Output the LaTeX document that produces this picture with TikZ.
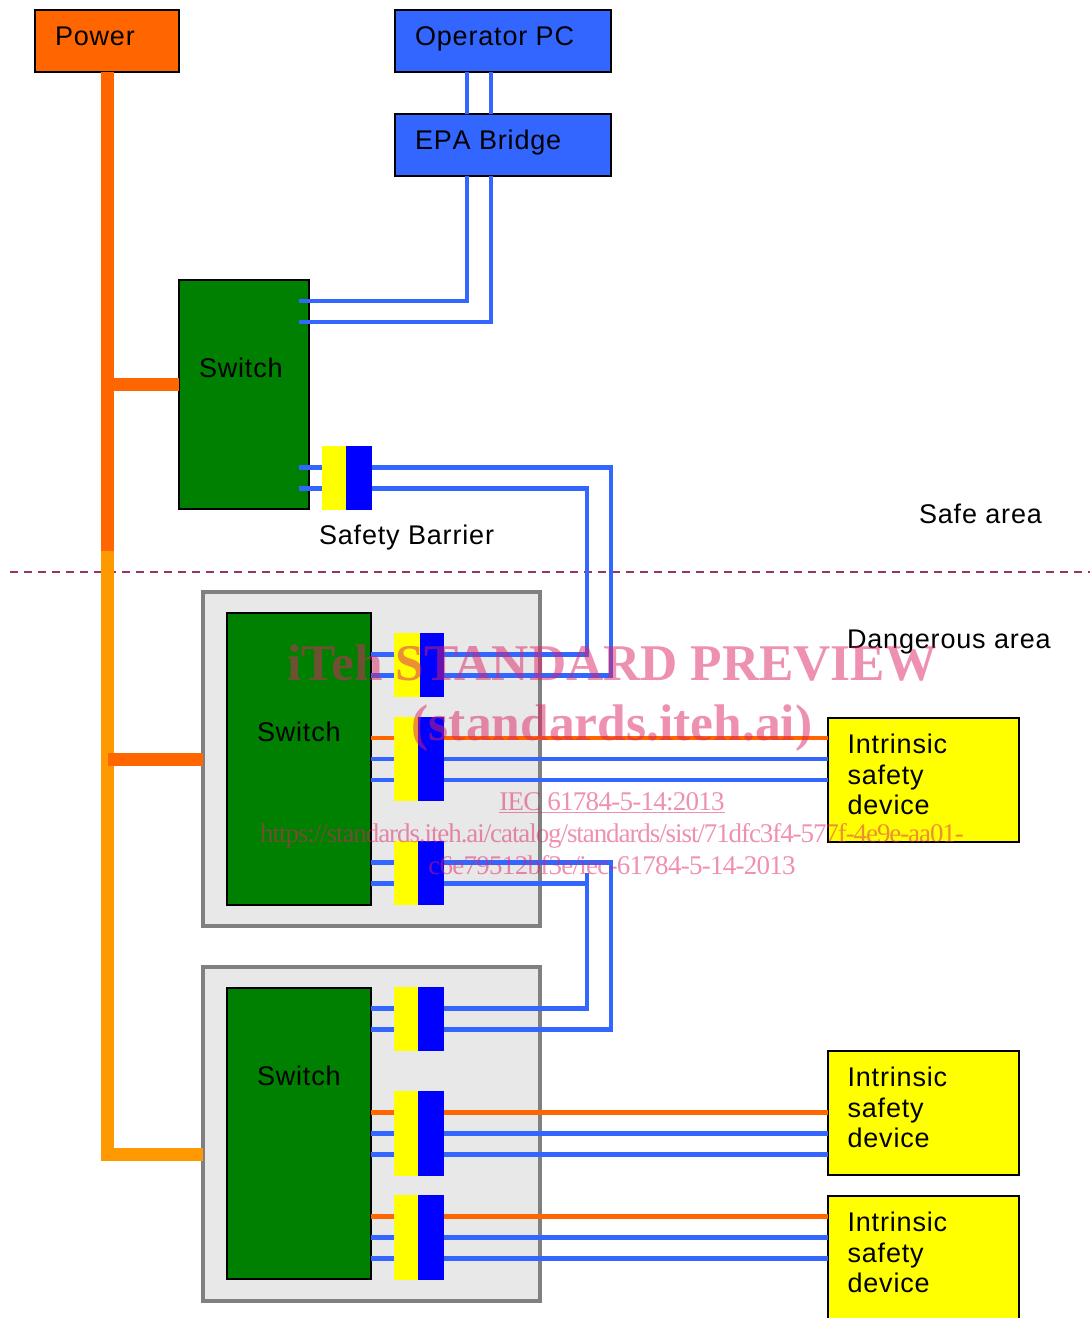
\documentclass[tikz,border=0pt]{standalone}
\usepackage{fontspec}
\setmainfont[LetterSpace=3.1,Kerning=Off]{Liberation Sans}
\newfontfamily\markfont{Liberation Serif}
\newfontfamily\markfontb[LetterSpace=-4]{Liberation Serif}
\newfontfamily\markfontc[LetterSpace=-2.7]{Liberation Serif}
\usepackage{xcolor}
\usetikzlibrary{positioning,calc}
\definecolor{pcblue}{RGB}{51,102,255}
\definecolor{powred}{RGB}{255,102,0}
\definecolor{powamb}{RGB}{255,153,0}
\definecolor{swgreen}{RGB}{0,128,0}
\definecolor{zoneline}{RGB}{153,51,102}
\definecolor{panelgray}{RGB}{232,232,232}
\definecolor{panelline}{RGB}{128,128,128}
\definecolor{markpink}{RGB}{221,34,102}
\definecolor{baryellow}{RGB}{255,255,0}
\definecolor{barblue}{RGB}{0,0,255}
\tikzset{
  box/.style    = {draw=black, line width=2pt, anchor=north west, inner sep=0pt, outer sep=0pt},
  panel/.style  = {draw=panelline, line width=4pt, fill=panelgray, anchor=north west, inner sep=0pt, outer sep=0pt, minimum width=336.5pt, minimum height=333.5pt},
  ybar/.style   = {fill=baryellow, anchor=north west, inner sep=0pt, outer sep=0pt},
  bbar/.style   = {fill=barblue, inner sep=0pt, outer sep=0pt},
  lbl/.style    = {inner sep=0pt, outer sep=0pt, anchor=base west, font=\fontsize{27}{30.5}\selectfont},
  wire/.style   = {line width=4.5pt, draw=pcblue},
  pwire/.style  = {line width=4.5pt, draw=powred},
  bus/.style    = {line width=13pt, draw=powred},
  busb/.style   = {line width=13pt, draw=powamb},
  wmark/.style  = {text=markpink, text opacity=0.5, inner sep=0pt, anchor=base},
}
\begin{document}
\begin{tikzpicture}[x=1pt,y=-1pt]
  \useasboundingbox (0,0) rectangle (1090,1318);
  % safe side
  \node[box, fill=powred, minimum width=144pt, minimum height=62pt] (power) at (35,10) {};
  \node[box, fill=pcblue, minimum width=216pt, minimum height=62pt] (opc) at (395,10) {};
  \node[box, fill=pcblue, minimum width=216pt, minimum height=62pt, below=42pt of opc] (bridge) {};
  \node[box, fill=swgreen, minimum width=130pt, minimum height=229pt] (swa) at (179,280) {};
  \node[ybar, minimum width=24pt, minimum height=64pt] (ya) at (322,446) {};
  \node[bbar, minimum width=26pt, minimum height=64pt, right=0pt of ya] (ba) {};
  % dangerous side
  \node[panel] (panela) at (203,592) {};
  \node[panel] (panelb) at (203,967) {};
  \node[box, fill=swgreen, minimum width=144pt, minimum height=292pt] (swb) at (227,613) {};
  \node[box, fill=swgreen, minimum width=144pt, minimum height=291pt] (swc) at (227,988) {};
  \node[ybar, minimum width=26pt, minimum height=64pt] (yb) at (394,633) {};
  \node[bbar, minimum width=24pt, minimum height=64pt, right=0pt of yb] (bb) {};
  \node[ybar, minimum width=24pt, minimum height=84pt] (yc) at (394,717) {};
  \node[bbar, minimum width=26pt, minimum height=84pt, right=0pt of yc] (bc) {};
  \node[ybar, minimum width=24pt, minimum height=64pt] (yd) at (394,841) {};
  \node[bbar, minimum width=26pt, minimum height=64pt, right=0pt of yd] (bd) {};
  \node[ybar, minimum width=24pt, minimum height=64pt] (ye) at (394,987) {};
  \node[bbar, minimum width=26pt, minimum height=64pt, right=0pt of ye] (be) {};
  \node[ybar, minimum width=24pt, minimum height=85pt] (yf) at (394,1091) {};
  \node[bbar, minimum width=26pt, minimum height=85pt, right=0pt of yf] (bf) {};
  \node[ybar, minimum width=24pt, minimum height=85pt] (yg) at (394,1195) {};
  \node[bbar, minimum width=26pt, minimum height=85pt, right=0pt of yg] (bg) {};
  \node[box, fill=baryellow, minimum width=191pt, minimum height=124pt] (deva) at (828,718) {};
  \node[box, fill=baryellow, minimum width=191pt, minimum height=124pt] (devb) at (828,1051) {};
  \node[box, fill=baryellow, minimum width=191pt, minimum height=124pt] (devc) at (828,1196) {};
  % zone border
  \coordinate (zonel) at (10,572);
  \coordinate (zoner) at (1090,572);
  \draw[zoneline, line width=2pt, dash pattern=on 8pt off 6pt] (zonel) -- (zoner);
  % power bus
  \coordinate (split) at (107.5,551);
  \coordinate (busend) at (107.5,1154);
  \coordinate (busmid) at (107.5,759);
  \coordinate (tapa) at ($(swa.west)+(0,-10)$);
  \draw[busb] (split) -- (busend) -- (panelb.west |- busend);
  \draw[bus] (power.south -| split) -- (split);
  \draw[bus] (split |- tapa) -- (tapa);
  \draw[bus] (busmid) -- (panela.west |- busmid);
  % data lines
  \coordinate (riserl) at (587,572);
  \coordinate (riserr) at (611,572);
  \foreach \off in {-36,-12} {
    \draw[wire] ([xshift=\off pt]opc.south) -- ([xshift=\off pt]bridge.north);
  }
  \draw[wire] ([xshift=-36pt]bridge.south) |- ($(swa.east)+(-10,-93.5)$);
  \draw[wire] ([xshift=-12pt]bridge.south) |- ($(swa.east)+(-10,-72.5)$);
  \foreach \off in {-10.5,10.5} {
    \draw[wire] ($(swa.east |- ya.west)+(-10,\off)$) -- ($(ya.west)+(0,\off)$);
  }
  \foreach \swi/\yel in {swb/yb,swb/yd,swc/ye} {
    \foreach \off in {-10.5,10.5} {
      \draw[wire] ($(\swi.east |- \yel.west)+(0,\off)$) -- ($(\yel.west)+(0,\off)$);
    }
  }
  \draw[wire] ($(ba.east)+(0,-10.5)$) -| (riserr) |- ($(bb.east)+(0,10.5)$);
  \draw[wire] ($(ba.east)+(0,10.5)$) -| (riserl) |- ($(bb.east)+(0,-10.5)$);
  \draw[wire] ($(bd.east)+(0,-10.5)$) -| (riserr |- bd.east) |- ($(be.east)+(0,10.5)$);
  \draw[wire] ($(bd.east)+(0,10.5)$) -| (riserl |- bd.east) |- ($(be.east)+(0,-10.5)$);
  \foreach \swi/\yel/\blu/\dev in {swb/yc/bc/deva,swc/yf/bf/devb,swc/yg/bg/devc} {
    \draw[pwire] ($(\swi.east |- \yel.west)+(0,-21)$) -- ($(\yel.west)+(0,-21)$);
    \draw[pwire] ($(\blu.east)+(0,-21)$) -- ($(\dev.west |- \blu.east)+(0,-21)$);
    \foreach \off in {0,21} {
      \draw[wire] ($(\swi.east |- \yel.west)+(0,\off)$) -- ($(\yel.west)+(0,\off)$);
      \draw[wire] ($(\blu.east)+(0,\off)$) -- ($(\dev.west |- \blu.east)+(0,\off)$);
    }
  }
  % labels
  \node[lbl] (powertxt) at ($(power.north west)+(20,35)$) {Power};
  \node[lbl] (opctxt) at ($(opc.north west)+(20,35)$) {Operator PC};
  \node[lbl] (bridgetxt) at ($(bridge.north west)+(20,35)$) {EPA Bridge};
  \node[lbl] (swatxt) at ($(swa.north west)+(20,97)$) {Switch};
  \node[lbl] (swbtxt) at ($(swb.north west)+(30,128)$) {Switch};
  \node[lbl] (swctxt) at ($(swc.north west)+(30,97)$) {Switch};
  \node[lbl] (barriertxt) at (319,544) {Safety Barrier};
  \node[lbl] (safetxt) at (919,523) {Safe area};
  \node[lbl] (dangertxt) at (847,648) {Dangerous area};
  \foreach \dev in {deva,devb,devc} {
    \node[lbl, anchor=north west, align=left] (\dev txt) at ($(\dev.north west)+(19.5,16)$) {Intrinsic\\safety\\device};
  }
  % watermark
  \node[wmark, font=\markfont\bfseries\fontsize{51.5}{52}\selectfont] (wma) at (612,680) {iTeh STANDARD PREVIEW};
  \node[wmark, font=\markfont\bfseries\fontsize{51.5}{52}\selectfont] (wmb) at (612,740) {(standards.iteh.ai)};
  \node[wmark, font=\markfontc\fontsize{27}{27}\selectfont] (wmc) at (612,810) {\underline{IEC 61784-5-14:2013}};
  \node[wmark, font=\markfontb\fontsize{27}{27}\selectfont] (wmd) at (612,842) {https://standards.iteh.ai/catalog/standards/sist/71dfc3f4-577f-4e9e-aa01-};
  \node[wmark, font=\markfontc\fontsize{27}{27}\selectfont] (wme) at (612,874) {c6e79512bf3e/iec-61784-5-14-2013};
\end{tikzpicture}
\end{document}
